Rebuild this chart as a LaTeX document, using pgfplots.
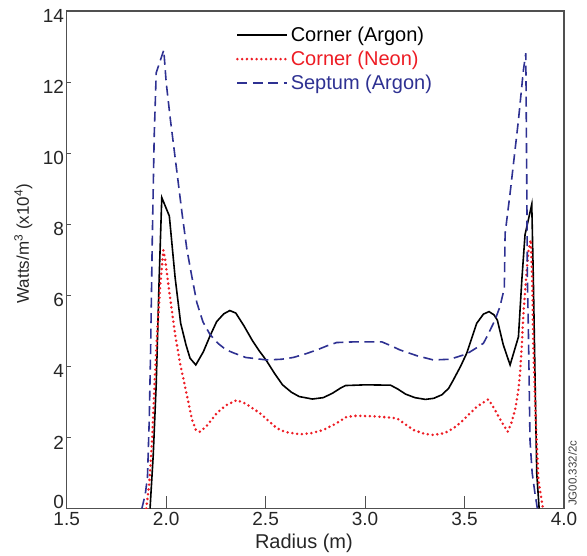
\documentclass[border=0pt]{standalone}
\usepackage{fontspec}
\setmainfont{Liberation Sans}
\usepackage{pgfplots}
\pgfplotsset{compat=1.18}
\usetikzlibrary{calc}
\definecolor{sblue}{HTML}{2E3192}
\definecolor{sred}{HTML}{ED1C24}
\definecolor{axgray}{HTML}{505050}
\begin{document}
\begin{tikzpicture}
\begin{axis}[
 scale only axis, width=497.3pt, height=497.5pt,
 xmin=1.5, xmax=4.0, ymin=0, ymax=14,
 xtick={1.5,2.0,2.5,3.0,3.5,4.0},
 ytick={2,4,...,14},
 extra y ticks={0},
 extra y tick style={yticklabel style={yshift=12pt}},
 xticklabel style={/pgf/number format/fixed, /pgf/number format/fixed zerofill, /pgf/number format/precision=1},
 /pgf/number format/assume math mode=true,
 tick align=inside,
 xtick pos=bottom, ytick pos=left,
 major tick length=12pt,
 ytick style={/pgfplots/major tick length=4pt},
 tick style={axgray, line width=0.9pt},
 axis line style={axgray, line width=1.1pt},
 ticklabel style={font=\fontsize{19}{21}\selectfont, text=black!85},
 yticklabel style={inner sep=2.5pt, yshift=-5pt},
 xlabel={Radius (m)},
 ylabel={Watts/m\textsuperscript{3} (x10\textsuperscript{4})},
 xlabel style={font=\fontsize{20}{22}\selectfont, text=black!85, at={(axis description cs:0.477,-0.07)}, anchor=center},
 ylabel style={font=\fontsize{17}{19}\selectfont, text=black!85, at={(axis description cs:-0.087,0.532)}, anchor=center},
 legend style={draw=none, fill=none, at={(0.34,0.972)}, anchor=north west, font=\fontsize{20}{22}\selectfont, inner sep=0pt, nodes={inner sep=2pt}, row sep=4pt},
 legend cell align=left,
 legend image code/.code={\draw[#1] (0pt,0pt) -- (50pt,0pt);},
]
\addplot[black, line width=1.6pt] coordinates {
(1.919,0) (1.935,1.5) (1.950,3.5) (1.965,6.5) (1.978,8.75) (2.016,8.23) (2.045,6.5) (2.073,5.21) (2.10,4.6) (2.120,4.23) (2.149,4.04) (2.187,4.41) (2.220,4.85) (2.254,5.26) (2.290,5.48) (2.320,5.57) (2.350,5.5) (2.390,5.15) (2.434,4.72) (2.47,4.42) (2.502,4.18) (2.545,3.8) (2.585,3.48) (2.63,3.27) (2.669,3.15) (2.735,3.08) (2.79,3.12) (2.835,3.24) (2.88,3.4) (2.902,3.46) (3.002,3.48) (3.128,3.47) (3.165,3.36) (3.203,3.22) (3.25,3.12) (3.303,3.07) (3.345,3.1) (3.386,3.2) (3.42,3.38) (3.444,3.62) (3.48,4.0) (3.511,4.37) (3.561,5.21) (3.595,5.47) (3.623,5.54) (3.648,5.45) (3.665,5.30) (3.680,4.95) (3.695,4.60) (3.729,4.04) (3.771,4.83) (3.788,6.43) (3.804,7.70) (3.838,8.56) (3.846,6.43) (3.855,3.5) (3.863,0.99) (3.875,0)
};
\addlegendentry{\textcolor{black}{Corner (Argon)}}
\addplot[sred, line width=2.8pt, line cap=round, dash pattern=on 0pt off 4.8pt] coordinates {
(1.900,0) (1.915,0.7) (1.930,2.0) (1.940,3.3) (1.952,4.65) (1.969,6.2) (1.986,7.27) (1.995,7.0) (2.019,5.96) (2.045,4.9) (2.070,4.08) (2.10,3.3) (2.13,2.5) (2.15,2.2) (2.17,2.16) (2.20,2.3) (2.254,2.68) (2.30,2.9) (2.355,3.05) (2.40,2.95) (2.472,2.68) (2.556,2.26) (2.60,2.15) (2.673,2.09) (2.73,2.12) (2.79,2.21) (2.85,2.38) (2.908,2.58) (2.958,2.61) (3.06,2.59) (3.159,2.54) (3.20,2.38) (3.243,2.21) (3.30,2.1) (3.343,2.07) (3.40,2.12) (3.444,2.26) (3.477,2.40) (3.528,2.68) (3.561,2.86) (3.619,3.07) (3.640,2.9) (3.662,2.68) (3.690,2.4) (3.717,2.16) (3.735,2.4) (3.754,2.77) (3.770,3.3) (3.779,3.80) (3.788,4.6) (3.796,5.49) (3.809,6.43) (3.820,7.2) (3.833,7.56) (3.840,6.5) (3.846,4.55) (3.858,2.5) (3.871,0.8) (3.90,-0.2)
};
\addlegendentry{\textcolor{sred}{Corner (Neon)}}
\addplot[sblue, line width=1.6pt, dash pattern=on 10pt off 5.5pt] coordinates {
(1.878,0) (1.895,0.4) (1.906,0.88) (1.915,2.5) (1.922,4.5) (1.930,7.5) (1.940,10.5) (1.950,12.26) (1.970,12.6) (1.988,12.9) (2.000,12.0) (2.020,11.0) (2.053,9.52) (2.080,8.3) (2.104,7.3) (2.130,6.5) (2.154,5.8) (2.185,5.25) (2.220,4.9) (2.260,4.65) (2.300,4.47) (2.338,4.38) (2.40,4.25) (2.506,4.18) (2.58,4.2) (2.639,4.25) (2.70,4.35) (2.757,4.46) (2.810,4.58) (2.857,4.67) (2.95,4.69) (3.084,4.69) (3.13,4.58) (3.176,4.46) (3.26,4.3) (3.343,4.18) (3.427,4.2) (3.511,4.35) (3.56,4.52) (3.595,4.65) (3.612,4.83) (3.653,5.30) (3.678,5.68) (3.700,6.2) (3.704,7.74) (3.729,8.87) (3.750,9.9) (3.771,10.93) (3.796,12.34) (3.808,12.81) (3.809,12.06) (3.813,9.05) (3.816,6.43) (3.821,5.02) (3.825,3.5) (3.829,1.93) (3.840,1.0) (3.854,0.43) (3.866,0)
};
\addlegendentry{\textcolor{sblue}{Septum (Argon)}}
\coordinate (bl) at (rel axis cs:0,0);
\coordinate (br) at (rel axis cs:1,0.003);
\coordinate (tr) at (rel axis cs:1,1);
\end{axis}
\node[rotate=90, anchor=north west, inner sep=1pt, font=\fontsize{11.5}{12}\selectfont, text=black!75] at ($(br)+(3pt,0)$) {JG00.332/2c};
\pgfresetboundingbox
\path[use as bounding box] ($(bl)+(-66.7pt,-47.5pt)$) rectangle ($(tr)+(23pt,11pt)$);
\end{tikzpicture}
\end{document}
